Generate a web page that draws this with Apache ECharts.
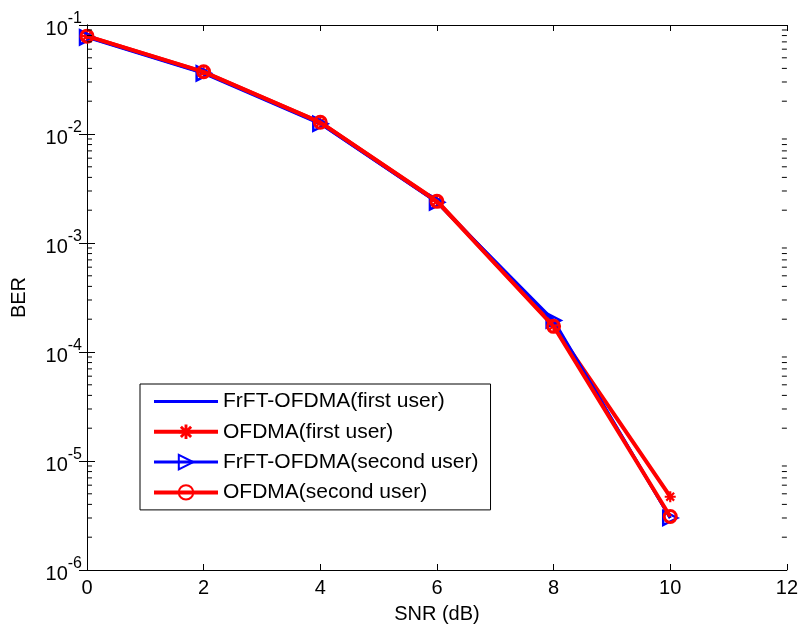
<!DOCTYPE html>
<html>
<head>
<meta charset="utf-8">
<script src="https://cdn.jsdelivr.net/npm/echarts@6/dist/echarts.min.js"></script>
<style>
html,body{margin:0;padding:0;background:#fff;}
#chart{width:801px;height:631px;}
</style>
</head>
<body>
<div id="chart"></div>
<script>
// ---- data ----
const snr = [0, 2, 4, 6, 8, 10];
const frftFirst  = [0.078, 0.0365, 0.0125, 0.00238, 1.90e-4, 3.0e-6];
const ofdmaFirst = [0.079, 0.0370, 0.0128, 0.00243, 1.75e-4, 4.7e-6];
const frftSecond = [0.077, 0.0360, 0.0124, 0.00236, 1.95e-4, 3.0e-6];
const ofdmaSecond= [0.079, 0.0372, 0.0128, 0.00241, 1.72e-4, 3.1e-6];
const seriesNames = ['FrFT-OFDMA(first user)', 'OFDMA(first user)', 'FrFT-OFDMA(second user)', 'OFDMA(second user)'];
const xTicks = [0, 2, 4, 6, 8, 10, 12];
const yDecades = [-6, -5, -4, -3, -2, -1];
const minorMultipliers = [2, 3, 4, 5, 6, 7, 8, 9];
const xName = 'SNR (dB)';
const yName = 'BER';

// minor tick values of the log axis (axis decoration, not data)
const minorVals = [];
yDecades.slice(0, -1).forEach(d => minorMultipliers.forEach(m => minorVals.push([0, m * Math.pow(10, d)])));

const pair = arr => snr.map((x, i) => [x, arr[i]]);
const FONT = 'Liberation Sans, Arial, sans-serif';
const asterisk = 'path://M-1.2,-6 L1.2,-6 L1.2,6 L-1.2,6 Z M-6,-1.2 L6,-1.2 L6,1.2 L-6,1.2 Z M-3.4,-5.1 L5.1,3.4 L3.4,5.1 L-5.1,-3.4 Z M5.1,-3.4 L-3.4,5.1 L-5.1,3.4 L3.4,-5.1 Z';

const chart = echarts.init(document.getElementById('chart'), null, {renderer: 'canvas'});
const axisLine = {show: true, lineStyle: {color: '#000', width: 1}};
chart.setOption({
  animation: false,
  backgroundColor: '#fff',
  grid: {left: 87, right: 12, top: 25, bottom: 61, containLabel: false},
  legend: {
    data: [
      {name: seriesNames[0], itemStyle: {opacity: 0}},
      seriesNames[1], seriesNames[2], seriesNames[3]
    ],
    orient: 'vertical',
    left: 140, top: 384,
    padding: [7, 12, 7, 12],
    itemGap: 9.3,
    itemWidth: 64, itemHeight: 18,
    borderColor: '#000', borderWidth: 1,
    backgroundColor: '#fff',
    lineStyle: {width: 'inherit'},
    textStyle: {fontFamily: FONT, fontSize: 21, color: '#000'},
    selectedMode: false
  },
  xAxis: [{
    type: 'value', min: xTicks[0], max: xTicks[xTicks.length - 1], interval: 2,
    position: 'bottom',
    axisLine: axisLine,
    axisTick: {show: true, inside: true, length: 6, lineStyle: {color: '#000'}},
    splitLine: {show: false},
    axisLabel: {fontFamily: FONT, fontSize: 20, color: '#000', margin: 8},
    name: xName, nameLocation: 'middle', nameGap: 34,
    nameTextStyle: {fontFamily: FONT, fontSize: 20, color: '#000'}
  }, {
    type: 'value', min: xTicks[0], max: xTicks[xTicks.length - 1], interval: 2,
    position: 'top',
    axisLine: axisLine,
    axisTick: {show: true, inside: true, length: 6, lineStyle: {color: '#000'}},
    axisLabel: {show: false}, splitLine: {show: false}
  }],
  yAxis: [{
    type: 'log', logBase: 10, min: Math.pow(10, yDecades[0]), max: Math.pow(10, yDecades[yDecades.length - 1]),
    position: 'left',
    axisLine: axisLine,
    axisTick: {show: true, inside: true, length: 8, lineStyle: {color: '#000'}},
    splitLine: {show: false}, minorTick: {show: false},
    axisLabel: {
      margin: 5,
      formatter: v => '{b|10}{s|' + Math.round(Math.log10(v)) + '}',
      rich: {
        b: {fontFamily: FONT, fontSize: 20, color: '#000', verticalAlign: 'bottom'},
        s: {fontFamily: FONT, fontSize: 16, color: '#000', verticalAlign: 'bottom', padding: [0, 0, 12, 0]}
      }
    },
    name: yName, nameLocation: 'middle', nameGap: 58, nameRotate: 90,
    nameTextStyle: {fontFamily: FONT, fontSize: 20, color: '#000'}
  }, {
    type: 'log', logBase: 10, min: Math.pow(10, yDecades[0]), max: Math.pow(10, yDecades[yDecades.length - 1]),
    position: 'right',
    axisLine: axisLine,
    axisTick: {show: true, inside: true, length: 8, lineStyle: {color: '#000'}},
    axisLabel: {show: false}, splitLine: {show: false}
  }],
  series: [{
    type: 'custom', name: 'minorTicks', silent: true, z: 5,
    coordinateSystem: 'cartesian2d', xAxisIndex: 0, yAxisIndex: 0,
    data: minorVals, clip: false,
    renderItem: (params, api) => {
      const v = api.value(1);
      const pl = api.coord([xTicks[0], v]);
      const pr = api.coord([xTicks[xTicks.length - 1], v]);
      const st = {stroke: '#000', lineWidth: 1};
      return {type: 'group', children: [
        {type: 'line', shape: {x1: pl[0], y1: pl[1], x2: pl[0] + 5, y2: pl[1]}, style: st},
        {type: 'line', shape: {x1: pr[0] - 5, y1: pr[1], x2: pr[0], y2: pr[1]}, style: st}
      ]};
    }
  }, {
    name: seriesNames[0], type: 'line', data: pair(frftFirst),
    color: '#0000ff', symbol: 'none', lineStyle: {color: '#0000ff', width: 3}, z: 2
  }, {
    name: seriesNames[1], type: 'line', data: pair(ofdmaFirst),
    color: '#ff0000', symbol: asterisk, symbolSize: 11,
    itemStyle: {color: '#ff0000'}, lineStyle: {color: '#ff0000', width: 4}, z: 3
  }, {
    name: seriesNames[2], type: 'line', data: pair(frftSecond),
    color: '#0000ff', symbol: 'triangle', symbolRotate: -90, symbolSize: 14,
    itemStyle: {color: 'rgba(0,0,0,0)', borderColor: '#0000ff', borderWidth: 2.5},
    lineStyle: {color: '#0000ff', width: 3}, z: 3
  }, {
    name: seriesNames[3], type: 'line', data: pair(ofdmaSecond),
    color: '#ff0000', symbol: 'circle', symbolSize: 12,
    itemStyle: {color: 'rgba(0,0,0,0)', borderColor: '#ff0000', borderWidth: 3},
    lineStyle: {color: '#ff0000', width: 4}, z: 4
  }]
});
</script>
</body>
</html>
